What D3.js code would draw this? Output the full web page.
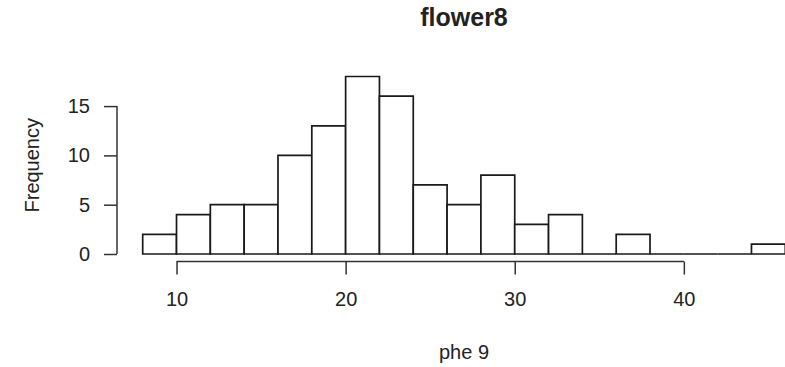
<!DOCTYPE html>
<html>
<head>
<meta charset="utf-8">
<script src="https://cdn.jsdelivr.net/npm/d3@7"></script>
<style>
  body { margin: 0; background: #fff; }
  text { font-family: "Liberation Sans", Arial, sans-serif; fill: #222; }
</style>
</head>
<body>
<script>
// histogram bins (width 2) and counts
var binStarts = [8, 10, 12, 14, 16, 18, 20, 22, 24, 26, 28, 30, 32, 34, 36, 38, 40, 42, 44];
var counts    = [2, 4, 5, 5, 10, 13, 18, 16, 7, 5, 8, 3, 4, 0, 2, 0, 0, 0, 1];
var binWidth = 2;
var xTicks = [10, 20, 30, 40];
var yTicks = [0, 5, 10, 15];
var title = "flower8";
var xLabel = "phe 9";
var yLabel = "Frequency";

var width = 785, height = 367;

var svg = d3.select("body").append("svg")
            .attr("width", width)
            .attr("height", height);

// plot region: R style, 4% padding around 8..46 and 0..18
var x = d3.scaleLinear().domain([6.48, 47.52]).range([117, 811]);
var y = d3.scaleLinear().domain([0, 18]).range([254, 76.5]);
var axisY = y(0) + 7.5;

var bins = binStarts.map(function(b, i){ return {x0: b, x1: b + binWidth, n: counts[i]}; });

// bars as closed paths so empty bins still show as a line on the baseline
svg.append("g").selectAll(".bar")
   .data(bins)
   .enter().append("path")
   .attr("class", "bar")
   .attr("d", function(d){
     return "M" + x(d.x0) + "," + y(0) + "V" + y(d.n) + "H" + x(d.x1) + "V" + y(0) + "Z";
   })
   .style("fill", "white")
   .style("stroke", "#1a1a1a")
   .style("stroke-width", 1.7);

// y axis
var gy = svg.append("g")
            .attr("transform", "translate(117,0)")
            .call(d3.axisLeft(y).tickValues(yTicks).tickSize(13).tickPadding(14));
gy.select(".domain").remove();
gy.append("line")
  .attr("x1", 0).attr("x2", 0)
  .attr("y1", y(yTicks[0])).attr("y2", y(yTicks[yTicks.length - 1]))
  .attr("stroke", "#333").attr("stroke-width", 1.5);
gy.selectAll(".tick line").attr("stroke", "#333").attr("stroke-width", 1.5);
gy.selectAll(".tick text").style("font-size", "20px")
  .style("font-family", "Liberation Sans, Arial, sans-serif").attr("fill", "#222");

// x axis
var gx = svg.append("g")
            .attr("transform", "translate(0," + axisY + ")")
            .call(d3.axisBottom(x).tickValues(xTicks).tickSize(13).tickPadding(17));
gx.select(".domain").remove();
gx.append("line")
  .attr("x1", x(xTicks[0])).attr("x2", x(xTicks[xTicks.length - 1]))
  .attr("y1", 0).attr("y2", 0)
  .attr("stroke", "#333").attr("stroke-width", 1.5);
gx.selectAll(".tick line").attr("stroke", "#333").attr("stroke-width", 1.5);
gx.selectAll(".tick text").style("font-size", "20px")
  .style("font-family", "Liberation Sans, Arial, sans-serif").attr("fill", "#222");

// titles
var midX = x(27);
svg.append("text")
   .attr("x", midX).attr("y", 26)
   .attr("text-anchor", "middle")
   .style("font-size", "25px").style("font-weight", "bold")
   .text(title);

svg.append("text")
   .attr("x", midX).attr("y", 359)
   .attr("text-anchor", "middle")
   .style("font-size", "20px")
   .text(xLabel);

svg.append("text")
   .attr("transform", "translate(39," + y(9) + ") rotate(-90)")
   .attr("text-anchor", "middle")
   .style("font-size", "20px")
   .text(yLabel);
</script>
</body>
</html>
